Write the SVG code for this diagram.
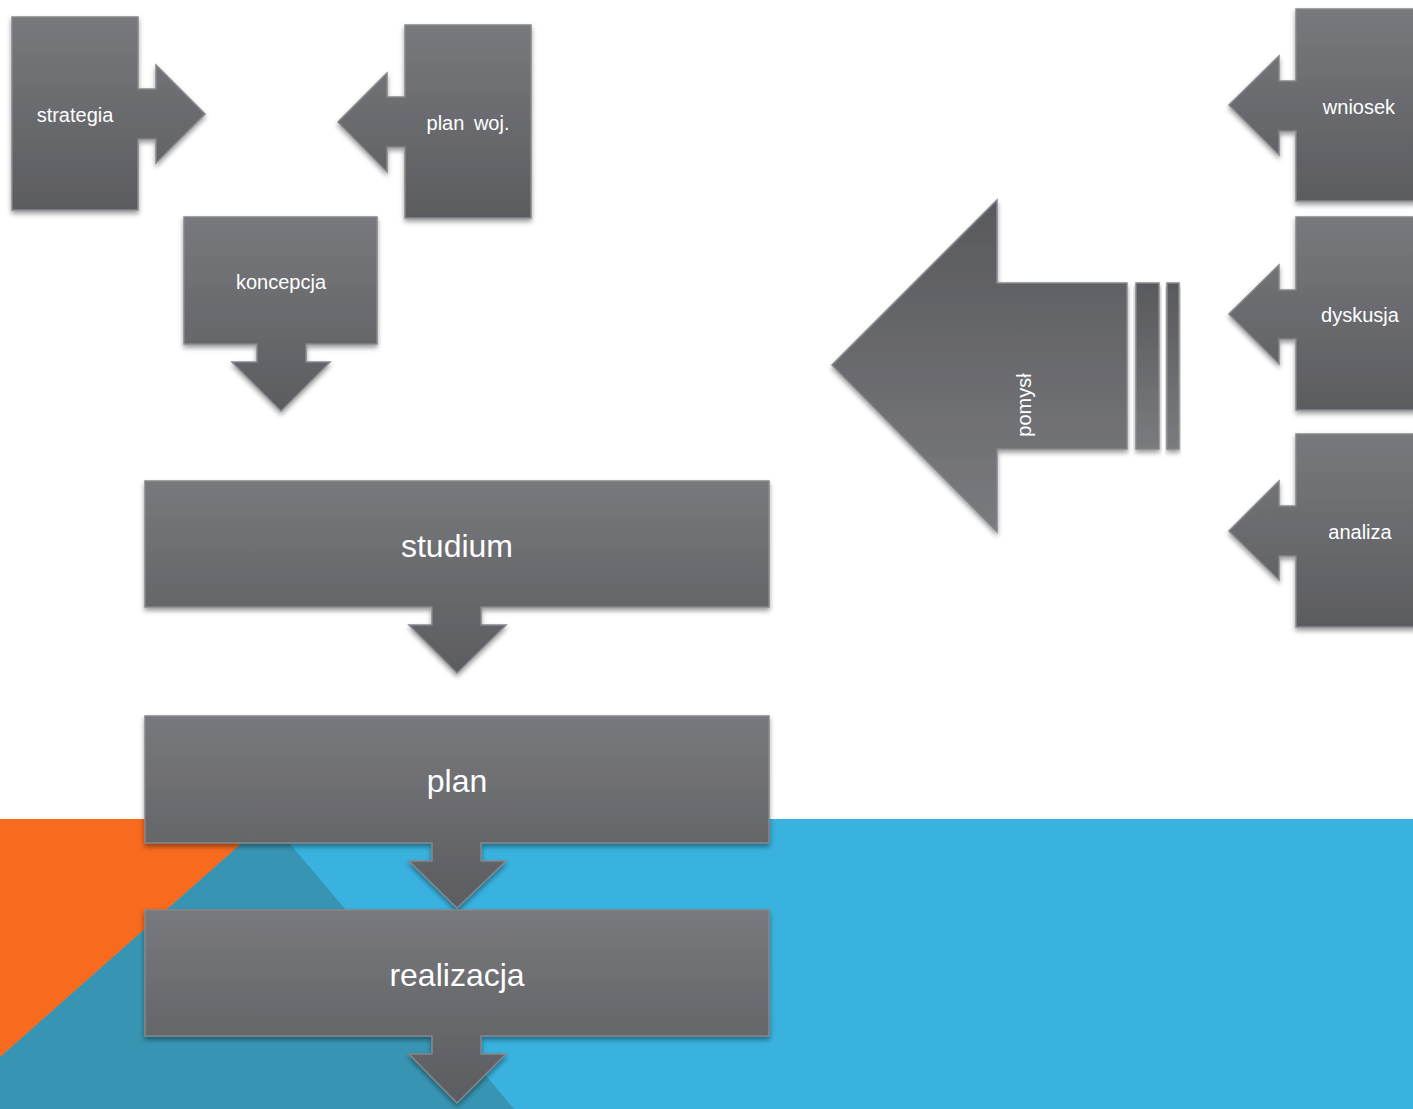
<svg xmlns="http://www.w3.org/2000/svg" width="1413" height="1109" viewBox="0 0 1413 1109">
<defs>
<linearGradient id="g" x1="0" y1="0" x2="0" y2="1">
<stop offset="0" stop-color="#78797d"/>
<stop offset="1" stop-color="#5b5c60"/>
</linearGradient>
<linearGradient id="gr" x1="0" y1="0" x2="0" y2="1">
<stop offset="0" stop-color="#58595d"/>
<stop offset="1" stop-color="#7a7b7f"/>
</linearGradient>
<filter id="sh" x="-10%" y="-10%" width="120%" height="125%">
<feDropShadow dx="0" dy="3" stdDeviation="2.5" flood-color="#000" flood-opacity="0.4"/>
</filter>
<style>
.n{fill:url(#g);stroke:#85868a;stroke-width:1.5;filter:url(#sh)}
.r{fill:url(#gr);stroke:#85868a;stroke-width:1.5;filter:url(#sh)}
.t{font-family:"Liberation Sans",Arial,sans-serif;fill:#fff;text-anchor:middle;dominant-baseline:central}
.s{font-size:20px}
.b{font-size:32px}
</style>
</defs>
<g id="background">
<rect x="0" y="0" width="1413" height="1109" fill="#ffffff"/>
<rect x="0" y="819" width="1413" height="290" fill="#39b2df"/>
<polygon points="269,819 514,1109 0,1109 0,1057" fill="#3795b3"/>
<polygon points="0,819 269,819 0,1057" fill="#f86a1d"/>
</g>
<g id="strategia">
<path class="n" d="M12,17 H138 V89 H156 V65 L205,114 L156,163 V139 H138 V210 H12 Z"/>
<text class="t s" x="75" y="115">strategia</text>
</g>
<g id="plan-woj">
<path class="n" d="M405,25 H531 V218 H405 V147 H387 V172 L338,122 L387,73 V97 H405 Z"/>
<text class="t s" x="468" y="123" word-spacing="4">plan woj.</text>
</g>
<g id="koncepcja">
<path class="n" d="M184,217 H377 V344 H306 V362 H330 L281,411 L232,362 H257 V344 H184 Z"/>
<text class="t s" x="281" y="282">koncepcja</text>
</g>
<g id="studium">
<path class="n" d="M145,481 H769 V607 H481 V625 H506 L457,673 L409,625 H432 V607 H145 Z"/>
<text class="t b" x="457" y="546">studium</text>
</g>
<g id="plan">
<path class="n" d="M145,716 H769 V843 H481 V861 H506 L457,908 L409,861 H432 V843 H145 Z"/>
<text class="t b" x="457" y="781">plan</text>
</g>
<g id="realizacja">
<path class="n" d="M145,910 H769 V1036 H481 V1054 H506 L457,1103 L409,1054 H432 V1036 H145 Z"/>
<text class="t b" x="457" y="975">realizacja</text>
</g>
<g id="pomysl">
<path class="r" d="M832,365 L997,200 V283 H1127 V449 H997 V532 Z"/>
<rect class="r" x="1136" y="283" width="23" height="166"/>
<rect class="r" x="1167" y="283" width="12" height="166"/>
<text class="t s" x="0" y="0" transform="translate(1024,405) rotate(-90)">pomysł</text>
</g>
<g id="wniosek">
<path class="n" d="M1296,9 H1416 V201 H1296 V131 H1279 V155 L1229,105 L1279,56 V81 H1296 Z"/>
<text class="t s" x="1359" y="107">wniosek</text>
</g>
<g id="dyskusja">
<path class="n" d="M1296,217 H1416 V410 H1296 V339 H1279 V364 L1229,314 L1279,265 V290 H1296 Z"/>
<text class="t s" x="1360" y="315">dyskusja</text>
</g>
<g id="analiza">
<path class="n" d="M1296,434 H1416 V627 H1296 V556 H1279 V580 L1229,531 L1279,481 V506 H1296 Z"/>
<text class="t s" x="1360" y="532">analiza</text>
</g>
<g id="connectors"/>
</svg>
